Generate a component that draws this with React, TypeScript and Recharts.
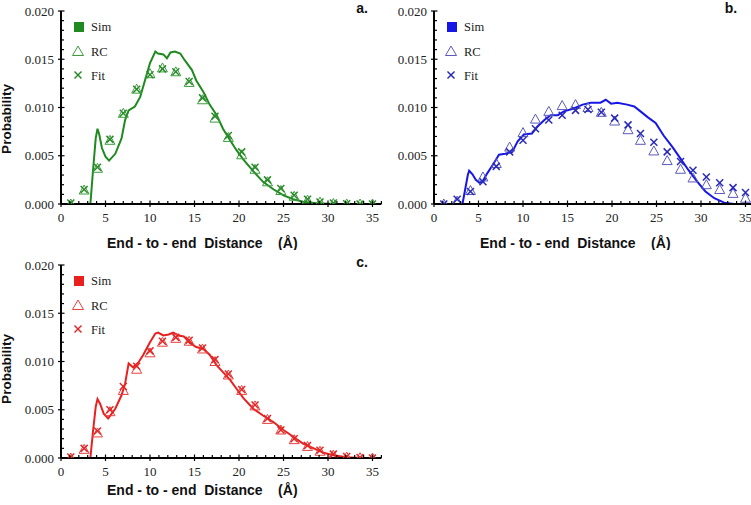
import React from 'react';
import { ComposedChart, Line, Scatter, XAxis, YAxis } from 'recharts';

// ---- shared marker positions (Å)
const markerX = [1.1, 2.6, 4.1, 5.5, 7.0, 8.5, 10.0, 11.4, 12.9, 14.4, 15.9, 17.3, 18.8, 20.3, 21.8, 23.2, 24.7, 26.2, 27.7, 29.1, 30.6, 32.1, 33.6, 35.0];

// ---- panel a (green)
const simAX = [3.3, 3.6, 3.9, 4.1, 4.3, 4.6, 5.0, 5.4, 6.1, 6.8, 7.2, 7.6, 8.3, 8.9, 9.4, 10.0, 10.6, 10.9, 11.5, 11.9, 12.3, 12.8, 13.4, 13.9, 14.7, 15.2, 16.0, 16.7, 17.5, 18.2, 19.0, 19.7, 20.5, 21.6, 22.7, 23.9, 25.0, 26.1, 27.2, 28.7, 30.6, 36];
const simAY = [0, 0.0035, 0.0068, 0.0078, 0.0072, 0.0058, 0.0049, 0.0045, 0.0052, 0.0068, 0.0087, 0.0097, 0.0101, 0.0111, 0.0127, 0.0146, 0.0158, 0.0156, 0.0155, 0.0151, 0.0157, 0.0158, 0.0156, 0.0149, 0.0139, 0.0128, 0.0116, 0.0103, 0.0092, 0.0078, 0.0066, 0.0056, 0.0046, 0.0034, 0.0023, 0.0015, 0.0009, 0.0005, 0.00024, 0.00007, 0, 0];
const rcA = [0, 0.00145, 0.0037, 0.0066, 0.0094, 0.0119, 0.0135, 0.0141, 0.0137, 0.0126, 0.0108, 0.0089, 0.0069, 0.0051, 0.0036, 0.0023, 0.0014, 0.0008, 0.0004, 0.0002, 0.00005, 0, 0, 0];
const fitA = [0.0001, 0.0015, 0.0038, 0.0067, 0.0094, 0.0119, 0.0134, 0.014, 0.0137, 0.0127, 0.011, 0.0091, 0.0071, 0.0054, 0.0038, 0.0025, 0.0016, 0.0009, 0.0005, 0.0002, 0.0001, 0.00003, 0, 0];

// ---- panel b (blue)
const simBX = [3.2, 3.5, 3.8, 3.95, 4.3, 4.7, 5.1, 5.5, 6.0, 6.7, 7.3, 8.0, 8.8, 9.4, 10.1, 11.0, 11.6, 12.4, 13.1, 13.9, 14.6, 15.7, 16.7, 17.6, 18.7, 19.3, 19.9, 20.6, 21.7, 22.5, 23.2, 24.0, 24.9, 25.8, 26.8, 27.7, 28.6, 29.6, 30.5, 31.5, 32.6, 33.7, 36];
const simBY = [0, 0.0015, 0.003, 0.00345, 0.0031, 0.0025, 0.0022, 0.0024, 0.0032, 0.0042, 0.0051, 0.0052, 0.0054, 0.0065, 0.0072, 0.0073, 0.008, 0.0087, 0.0092, 0.0092, 0.0096, 0.0099, 0.0103, 0.0105, 0.0105, 0.0108, 0.0104, 0.0105, 0.0103, 0.0101, 0.0096, 0.009, 0.0084, 0.0071, 0.0059, 0.0047, 0.0035, 0.0023, 0.0013, 0.0006, 0.00014, 0, 0];
const rcB = [0, 0.0003, 0.0014, 0.0028, 0.0042, 0.0059, 0.0074, 0.0088, 0.0096, 0.0102, 0.0103, 0.01, 0.0095, 0.0086, 0.0077, 0.0066, 0.0055, 0.0045, 0.0036, 0.0027, 0.002, 0.0015, 0.0011, 0.0006];
const fitB = [0, 0.0005, 0.0013, 0.0023, 0.0039, 0.0054, 0.0066, 0.0078, 0.0087, 0.0092, 0.0097, 0.0098, 0.0095, 0.0089, 0.0082, 0.0073, 0.0064, 0.0054, 0.0044, 0.0035, 0.0028, 0.0022, 0.0017, 0.0012];

// ---- panel c (red)
const simCX = [3.3, 3.6, 3.9, 4.1, 4.4, 4.8, 5.3, 6.1, 6.8, 7.2, 7.6, 8.1, 8.7, 9.25, 10.0, 10.6, 10.9, 11.5, 12.1, 12.6, 13.2, 13.8, 14.5, 15.2, 16.0, 16.7, 17.5, 18.2, 19.0, 19.7, 20.5, 21.6, 22.7, 23.9, 25.0, 26.1, 27.2, 28.4, 29.5, 30.6, 32.1, 33.6, 36];
const simCY = [0, 0.0028, 0.0053, 0.0061, 0.0056, 0.0046, 0.0041, 0.0051, 0.0065, 0.0077, 0.0098, 0.0094, 0.0099, 0.0107, 0.012, 0.0129, 0.013, 0.0127, 0.0128, 0.013, 0.0127, 0.0126, 0.0119, 0.0115, 0.0113, 0.0107, 0.0096, 0.0089, 0.0081, 0.0072, 0.0062, 0.0051, 0.0044, 0.0037, 0.0029, 0.0022, 0.0015, 0.001, 0.00055, 0.00028, 0.00007, 0, 0];
const rcC = [0, 0.0009, 0.0026, 0.0048, 0.007, 0.0092, 0.0109, 0.012, 0.0124, 0.0121, 0.0113, 0.01, 0.0086, 0.007, 0.0054, 0.004, 0.0029, 0.0019, 0.0012, 0.0007, 0.0003, 0.0001, 0.00003, 0];
const fitC = [0.0001, 0.001, 0.0028, 0.005, 0.0074, 0.0095, 0.0111, 0.0121, 0.0125, 0.0122, 0.0114, 0.0102, 0.0087, 0.0071, 0.0055, 0.0041, 0.0029, 0.002, 0.0013, 0.0008, 0.0004, 0.00015, 0.00005, 0];

// ---- axes / labels
const xTicks = Array.from({ length: 37 }, (_, i) => i);
const xMajor = [0, 5, 10, 15, 20, 25, 30, 35];
const yTicks = Array.from({ length: 21 }, (_, i) => i / 1000);
const seriesNames = ['Sim', 'RC', 'Fit'];
const xTitle = 'End - to - end  Distance    (Å)';
const yTitle = 'Probability';

const SERIF = '"Liberation Serif", "Times New Roman", serif';
const SANS = '"Liberation Sans", Arial, sans-serif';

const pts = (xs: number[], ys: number[]) => xs.map((x, i) => ({ x, y: ys[i] }));

const XTick = (props: any) => {
  const { x, y, payload } = props;
  const v = payload.value;
  const major = xMajor.includes(v);
  return (
    <g>
      {major ? (
        <line x1={x} x2={x} y1={y - 3.5} y2={y + 3} stroke="#000" strokeWidth={1.2} />
      ) : (
        <line x1={x} x2={x} y1={y} y2={y - 3} stroke="#000" strokeWidth={1.2} />
      )}
      {major && (
        <text x={x} y={y + 18} textAnchor="middle" fontFamily={SERIF} fontSize={13} fill="#222">
          {v}
        </text>
      )}
    </g>
  );
};

const YTick = (props: any) => {
  const { x, y, payload } = props;
  const v = payload.value;
  const major = Math.round(v * 1000) % 5 === 0;
  return (
    <g>
      {major ? (
        <line x1={x - 3} x2={x + 3.5} y1={y} y2={y} stroke="#000" strokeWidth={1.2} />
      ) : (
        <line x1={x} x2={x + 3} y1={y} y2={y} stroke="#000" strokeWidth={1.2} />
      )}
      {major && (
        <text x={x - 7} y={y + 4.5} textAnchor="end" fontFamily={SERIF} fontSize={13} fill="#222">
          {v.toFixed(3)}
        </text>
      )}
    </g>
  );
};

const Tri = (color: string) => (props: any) => {
  const { cx, cy } = props;
  if (cx == null || cy == null) return <g />;
  return (
    <polygon
      points={`${cx - 5},${cy + 4} ${cx + 5},${cy + 4} ${cx},${cy - 5}`}
      fill="none"
      stroke={color}
      strokeWidth={1}
    />
  );
};

const Cross = (color: string) => (props: any) => {
  const { cx, cy } = props;
  if (cx == null || cy == null) return <g />;
  const s = 3.5;
  return (
    <g stroke={color} strokeWidth={1.5}>
      <line x1={cx - s} y1={cy - s} x2={cx + s} y2={cy + s} />
      <line x1={cx - s} y1={cy + s} x2={cx + s} y2={cy - s} />
    </g>
  );
};

type PanelProps = {
  left: number;
  top: number;
  simX: number[];
  simY: number[];
  rc: number[];
  fit: number[];
  simColor: string;
  rcColor: string;
  fitColor: string;
  letter: string;
  showYTitle: boolean;
  xTitleDy: number;
  yTitleDy: number;
};

const Panel = (p: PanelProps) => {
  const sim = pts(p.simX, p.simY);
  const rc = pts(markerX, p.rc);
  const fit = pts(markerX, p.fit);
  return (
    <div style={{ position: 'absolute', left: p.left, top: p.top }}>
      <ComposedChart width={392} height={250} margin={{ top: 11, right: 10.6, left: 0, bottom: 0 }}>
        <XAxis
          dataKey="x"
          type="number"
          domain={[0, 36]}
          ticks={xTicks}
          interval={0}
          tickSize={0}
          tickMargin={0}
          tickLine={false}
          tick={<XTick />}
          axisLine={{ stroke: '#000', strokeWidth: 2 }}
          height={46}
          allowDataOverflow
          label={(lp: any) => {
            const vb = lp.viewBox || {};
            return (
              <text
                x={(vb.x ?? 0) + 46}
                y={(vb.y ?? 0) + p.xTitleDy}
                fontFamily={SANS}
                fontWeight="bold"
                fontSize={14}
                fill="#111"
                style={{ whiteSpace: 'pre' }}
                xmlSpace="preserve"
              >
                {xTitle}
              </text>
            );
          }}
        />
        <YAxis
          type="number"
          domain={[0, 0.02]}
          ticks={yTicks}
          interval={0}
          tickSize={0}
          tickMargin={0}
          tickLine={false}
          tick={<YTick />}
          axisLine={{ stroke: '#000', strokeWidth: 2 }}
          width={61}
          allowDataOverflow
          label={(lp: any) => {
            if (!p.showYTitle) return <g />;
            const vb = lp.viewBox || {};
            const tx = (vb.x ?? 0) + 11;
            const ty = (vb.y ?? 0) + p.yTitleDy;
            return (
              <text
                x={tx}
                y={ty}
                transform={`rotate(-90 ${tx} ${ty})`}
                textAnchor="middle"
                fontFamily={SANS}
                fontWeight="bold"
                fontSize={13.5}
                fill="#111"
              >
                {yTitle}
              </text>
            );
          }}
        />
        <Line
          data={sim}
          dataKey="y"
          type="linear"
          stroke={p.simColor}
          strokeWidth={2}
          dot={false}
          activeDot={false}
          isAnimationActive={false}
          name={seriesNames[0]}
        />
        <Scatter data={rc} dataKey="y" shape={Tri(p.rcColor)} isAnimationActive={false} name={seriesNames[1]} />
        <Scatter data={fit} dataKey="y" shape={Cross(p.fitColor)} isAnimationActive={false} name={seriesNames[2]} />
      </ComposedChart>
      <svg
        width={392}
        height={250}
        style={{ position: 'absolute', left: 0, top: 0, pointerEvents: 'none' }}
      >
        <rect x={74} y={22} width={10} height={10} fill={p.simColor} />
        <text x={91} y={30.5} fontFamily={SERIF} fontSize={12.5} fill="#222">
          {seriesNames[0]}
        </text>
        <polygon points="72.5,55.5 83.5,55.5 78,46" fill="none" stroke={p.rcColor} strokeWidth={1} />
        <text x={91} y={55.5} fontFamily={SERIF} fontSize={12.5} fill="#222">
          {seriesNames[1]}
        </text>
        <g stroke={p.fitColor} strokeWidth={1.5}>
          <line x1={74.5} y1={71.5} x2={81.5} y2={78.5} />
          <line x1={74.5} y1={78.5} x2={81.5} y2={71.5} />
        </g>
        <text x={91} y={79.5} fontFamily={SERIF} fontSize={12.5} fill="#222">
          {seriesNames[2]}
        </text>
        <text x={p.letter === 'b.' ? 358 : 362} y={13} textAnchor="middle" fontFamily={SANS} fontWeight="bold" fontSize={14} fill="#111">
          {p.letter}
        </text>
      </svg>
    </div>
  );
};

export default function App() {
  return (
    <div
      style={{
        position: 'absolute',
        left: 0,
        top: 0,
        width: 751,
        height: 505,
        overflow: 'hidden',
        background: '#fff',
      }}
    >
      <Panel
        left={0}
        top={0}
        simX={simAX}
        simY={simAY}
        rc={rcA}
        fit={fitA}
        simColor="#1f8a1f"
        rcColor="#3c9c3c"
        fitColor="#2a8a2a"
        letter="a."
        showYTitle
        xTitleDy={44}
        yTitleDy={108}
      />
      <Panel
        left={373}
        top={0}
        simX={simBX}
        simY={simBY}
        rc={rcB}
        fit={fitB}
        simColor="#1616e6"
        rcColor="#5a5ab8"
        fitColor="#2a2ab8"
        letter="b."
        showYTitle={false}
        xTitleDy={44}
        yTitleDy={108}
      />
      <Panel
        left={0}
        top={254}
        simX={simCX}
        simY={simCY}
        rc={rcC}
        fit={fitC}
        simColor="#e8201e"
        rcColor="#e84040"
        fitColor="#e02828"
        letter="c."
        showYTitle
        xTitleDy={37}
        yTitleDy={104}
      />
    </div>
  );
}
